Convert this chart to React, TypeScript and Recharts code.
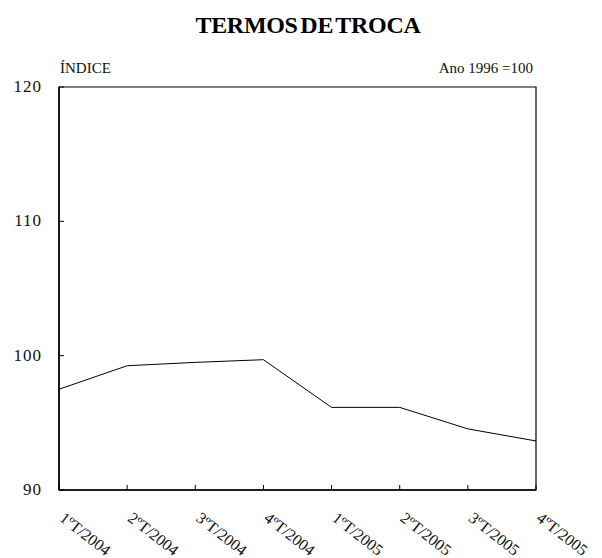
import React from 'react';
import { LineChart, Line, XAxis, YAxis, ReferenceArea } from 'recharts';

// Termos de troca, índice (1996 = 100)
const quarters = ['1ºT/2004', '2ºT/2004', '3ºT/2004', '4ºT/2004', '1ºT/2005', '2ºT/2005', '3ºT/2005', '4ºT/2005'];
const indexValues = [97.5, 99.25, 99.5, 99.7, 96.15, 96.15, 94.55, 93.65];
const yTicks = [90, 100, 110, 120];

const data = quarters.map((q, i) => ({ quarter: q, value: indexValues[i] }));

const serif = { fontFamily: '"Liberation Serif"' };

const QuarterTick = (props: any) => {
  const { x, y, payload } = props;
  return (
    <g transform={`translate(${x},${y})`}>
      <text
        x={12}
        y={16}
        transform="rotate(38)"
        textAnchor="start"
        fontSize={16}
        fill="#111"
        fontFamily="Liberation Serif"
        style={serif}
      >
        {payload.value}
      </text>
    </g>
  );
};

const IndexTick = (props: any) => {
  const { x, y, payload } = props;
  return (
    <text
      x={x}
      y={y}
      dy={5}
      textAnchor="end"
      fontSize={17}
      fill="#111"
      fontFamily="Liberation Serif"
      style={{ ...serif, letterSpacing: 1 }}
    >
      {payload.value}
    </text>
  );
};

export default function App() {
  return (
    <div style={{ position: 'absolute', left: 0, top: 0, width: 602, height: 558, background: '#fff', ...serif }}>
      <LineChart
        width={602}
        height={558}
        data={data}
        margin={{ top: 87, right: 66, bottom: 0, left: 0 }}
      >
        <XAxis
          dataKey="quarter"
          scale="point"
          padding={{ left: 0, right: 0 }}
          height={68}
          interval={0}
          axisLine={{ stroke: '#000', strokeWidth: 1.5 }}
          tickLine={{ stroke: '#000' }}
          tickSize={-5}
          tickMargin={15}
          tick={<QuarterTick />}
        />
        <YAxis
          domain={[90, 120]}
          ticks={yTicks}
          width={59}
          axisLine={{ stroke: '#000', strokeWidth: 1.5 }}
          tickLine={{ stroke: '#000' }}
          tickSize={-5}
          tickMargin={22}
          tick={<IndexTick />}
        />
        <ReferenceArea y1={90} y2={120} fill="none" stroke="#000" strokeWidth={1.2} ifOverflow="visible" />
        <Line
          type="linear"
          dataKey="value"
          stroke="#000"
          strokeWidth={1}
          dot={false}
          isAnimationActive={false}
        />
      </LineChart>
      <svg
        width={602}
        height={100}
        style={{ position: 'absolute', left: 0, top: 0, pointerEvents: 'none' }}
      >
        <text
          x={308}
          y={33}
          textAnchor="middle"
          fontSize={24}
          fontWeight="bold"
          fontFamily="Liberation Serif"
          style={{ ...serif, letterSpacing: -0.3, wordSpacing: -3 }}
        >
          TERMOS DE TROCA
        </text>
        <text x={60} y={73} fontSize={15} fill="#111" fontFamily="Liberation Serif" style={serif}>
          ÍNDICE
        </text>
        <text x={533} y={73} textAnchor="end" fontSize={15} fill="#111" fontFamily="Liberation Serif" style={serif}>
          Ano 1996 =100
        </text>
      </svg>
    </div>
  );
}
